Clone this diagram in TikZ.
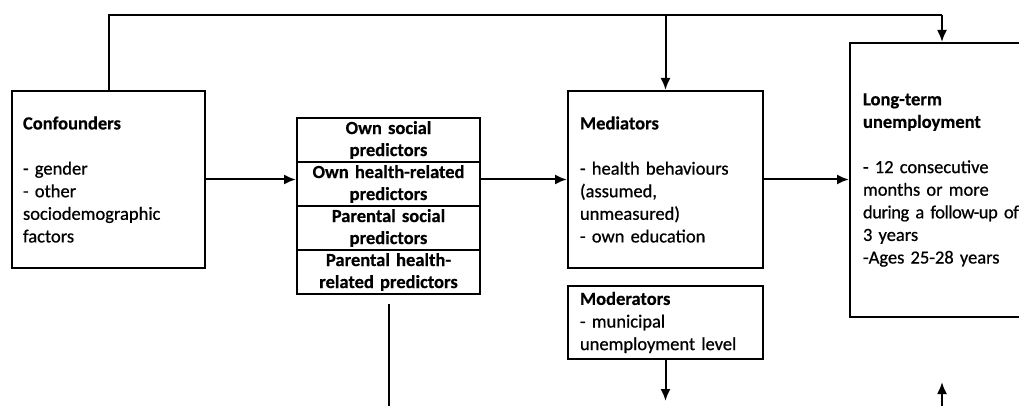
\documentclass[tikz,border=0pt]{standalone}
\usepackage{fontspec}
\setmainfont{Carlito}[UprightFeatures={FakeBold=0.7}, BoldFeatures={FakeBold=0.5}]
\usetikzlibrary{arrows.meta}

\begin{document}
\begin{tikzpicture}[x=1pt, y=-1pt, line width=2pt, >={Latex[length=12pt,width=10pt]},
  box/.style={shape=rectangle, draw, inner sep=0pt, font=\fontsize{18.5}{22.6}\selectfont},
  textbox/.style={box, align=left, text width=#1},
  cell/.style={box, align=center, text width=170pt, minimum width=183pt, minimum height=44pt, font=\bfseries\fontsize{18.5}{22}\selectfont}]
\clip (0,0) rectangle (1019,406);

\node [textbox=171pt, minimum width=193pt, minimum height=177pt] (Conf) at (108.5,179.5) {\textbf{Confounders}\\[22.6pt] - gender\\ - other\\ sociodemographic\\ factors};
\node [cell] (P1) at (388.5,140) {Own social\\ predictors};
\node [cell, below of=P1, node distance=44pt] (P2) {Own health-related\\ predictors};
\node [cell, below of=P2, node distance=44pt] (P3) {Parental social\\ predictors};
\node [cell, below of=P3, node distance=44pt] (P4) {Parental health-\\ related predictors};
\node [textbox=171pt, minimum width=195pt, minimum height=177pt] (Med) at (665.5,179.5) {\textbf{Mediators}\\[22.6pt] - health behaviours\\ (assumed,\\ unmeasured)\\ - own education};
\node [textbox=168pt, minimum width=194pt, minimum height=274pt] (LTU) at (947,180) {\textbf{Long-term}\\ \textbf{unemployment}\\[22.6pt] - 12 consecutive\\ months or more\\ {\addfontfeatures{LetterSpace=-2.5}during a follow-up of}\\ 3 years\\ -Ages 25-28 years};
\node [textbox=171pt, minimum width=195pt, minimum height=73pt] (Mod) at (665.5,322.5) {\textbf{Moderators}\\ - municipal\\ unemployment level};

\coordinate (top) at (942,15);
\coordinate (low) at (0,406);
\coordinate (modend) at (665.5,401);
\coordinate (ltuin) at (942,382);

\draw (Conf.north) |- (top);
\draw[->] (top) -- (LTU.north -| top);
\draw[->] (Med.north |- top) -- (Med.north);
\draw[->] (Conf.east) -- (Conf.east -| P2.west);
\draw[->] (Med.west -| P2.east) -- (Med.west);
\draw[->] (Med.east) -- (Med.east -| LTU.west);
\draw ([yshift=-9pt]P4.south) -- (P4.south |- low);
\draw[->] (Mod.south) -- (Mod.south |- modend);
\draw[->] (top |- low) -- (ltuin);
\end{tikzpicture}
\end{document}
